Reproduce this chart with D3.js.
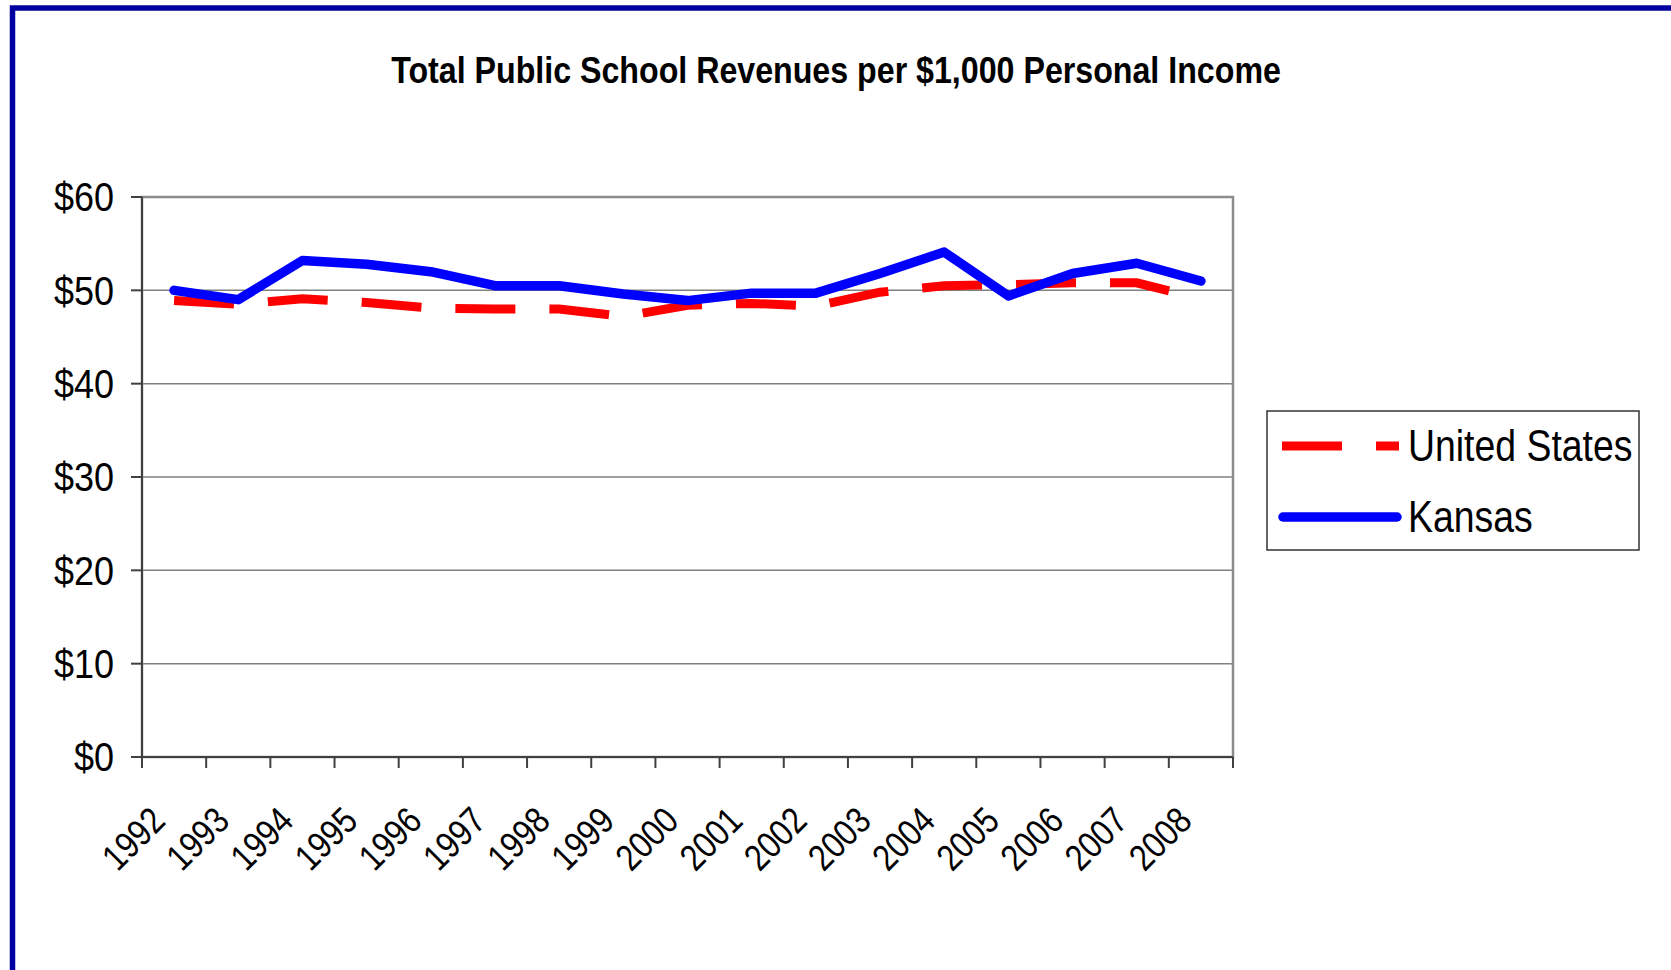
<!doctype html>
<html>
<head>
<meta charset="utf-8">
<title>Total Public School Revenues per $1,000 Personal Income</title>
<script src="https://cdn.jsdelivr.net/npm/d3@7"></script>
<style>
body { margin: 0; background: #fff; }
svg { display: block; }
text { font-family: "Liberation Sans", Arial, sans-serif; fill: #000; }
</style>
</head>
<body>
<svg id="chart" width="1671" height="970"></svg>
<script>
var years = ["1992", "1993", "1994", "1995", "1996", "1997", "1998", "1999", "2000",
             "2001", "2002", "2003", "2004", "2005", "2006", "2007", "2008"];
var unitedStates = [48.9, 48.5, 49.1, 48.7, 48.1, 48.0, 48.0, 47.2, 48.4,
                    48.6, 48.3, 49.8, 50.5, 50.6, 50.8, 50.8, 49.1];
var kansas = [50.0, 49.0, 53.2, 52.8, 52.0, 50.5, 50.5, 49.6, 48.9,
              49.7, 49.7, 51.8, 54.1, 49.4, 51.8, 52.9, 51.0];
var yTicks = [0, 10, 20, 30, 40, 50, 60];

var svg = d3.select("#chart");

// outer frame, runs off the right and bottom edge
svg.append("rect")
  .attr("x", 12.5).attr("y", 8)
  .attr("width", 1700).attr("height", 1000)
  .attr("fill", "none").attr("stroke", "#0000a0").attr("stroke-width", 5.5);

svg.append("text")
  .attr("transform", "translate(836,83) scale(0.87,1)")
  .attr("text-anchor", "middle")
  .style("font-size", "37px").style("font-weight", "bold")
  .text("Total Public School Revenues per $1,000 Personal Income");

var plotLeft = 142, plotRight = 1233, plotTop = 197, plotBottom = 757;

var x = d3.scaleBand().domain(years).range([plotLeft, plotRight]);
var y = d3.scaleLinear().domain([0, 60]).range([plotBottom, plotTop]);
var cx = function(d) { return x(d) + x.bandwidth() / 2; };

// gridlines
svg.append("g").selectAll("line")
  .data(yTicks.filter(function(t) { return t > 0 && t < 60; }))
  .join("line")
  .attr("x1", plotLeft).attr("x2", plotRight)
  .attr("y1", function(d) { return y(d); }).attr("y2", function(d) { return y(d); })
  .attr("stroke", "#808080").attr("stroke-width", 1.5);

// plot frame
svg.append("rect")
  .attr("x", plotLeft).attr("y", plotTop)
  .attr("width", plotRight - plotLeft).attr("height", plotBottom - plotTop)
  .attr("fill", "none").attr("stroke", "#8c8c8c").attr("stroke-width", 2.5);

// axes
svg.append("line").attr("x1", plotLeft).attr("x2", plotLeft).attr("y1", plotTop).attr("y2", plotBottom + 1)
  .attr("stroke", "#404040").attr("stroke-width", 2);
svg.append("line").attr("x1", plotLeft).attr("x2", plotRight).attr("y1", plotBottom).attr("y2", plotBottom)
  .attr("stroke", "#404040").attr("stroke-width", 2);

// y ticks and labels
svg.append("g").selectAll("line")
  .data(yTicks).join("line")
  .attr("x1", plotLeft - 11).attr("x2", plotLeft)
  .attr("y1", function(d) { return y(d); }).attr("y2", function(d) { return y(d); })
  .attr("stroke", "#404040").attr("stroke-width", 2);

svg.append("g").selectAll("text")
  .data(yTicks).join("text")
  .attr("transform", function(d) { return "translate(114," + y(d) + ") scale(0.9,1)"; })
  .attr("dy", "0.36em")
  .attr("text-anchor", "end")
  .style("font-size", "40px")
  .text(function(d) { return "$" + d; });

// x ticks between categories
var edges = years.map(function(d) { return x(d); }).concat([plotRight]);
svg.append("g").selectAll("line")
  .data(edges).join("line")
  .attr("x1", function(d) { return d; }).attr("x2", function(d) { return d; })
  .attr("y1", plotBottom).attr("y2", plotBottom + 11)
  .attr("stroke", "#404040").attr("stroke-width", 2);

svg.append("g").selectAll("text")
  .data(years).join("text")
  .attr("transform", function(d) {
    return "translate(" + (cx(d) - 7) + "," + (plotBottom + 66) + ") rotate(-45) scale(0.85,1)";
  })
  .attr("text-anchor", "end")
  .style("font-size", "37px")
  .text(function(d) { return d; });

// series
var line = d3.line()
  .x(function(d, i) { return cx(years[i]); })
  .y(function(d) { return y(d); });

svg.append("path")
  .datum(unitedStates)
  .attr("d", line)
  .attr("fill", "none").attr("stroke", "#ff0000").attr("stroke-width", 9)
  .attr("stroke-dasharray", "60,34");

svg.append("path")
  .datum(kansas)
  .attr("d", line)
  .attr("fill", "none").attr("stroke", "#0000ff").attr("stroke-width", 9.5)
  .attr("stroke-linejoin", "round").attr("stroke-linecap", "round");

// legend
var legend = svg.append("g");
legend.append("rect")
  .attr("x", 1267).attr("y", 411).attr("width", 372).attr("height", 139)
  .attr("fill", "#fff").attr("stroke", "#333").attr("stroke-width", 1.5);

var items = [
  {name: "United States", color: "#ff0000", dash: "60,34", cap: "butt", y: 446, w: 9},
  {name: "Kansas", color: "#0000ff", dash: null, cap: "round", y: 517, w: 9.5}
];
items.forEach(function(it) {
  legend.append("line")
    .attr("x1", it.cap === "round" ? 1283 : 1282).attr("x2", it.cap === "round" ? 1397 : 1399)
    .attr("y1", it.y).attr("y2", it.y)
    .attr("stroke", it.color).attr("stroke-width", it.w)
    .attr("stroke-linecap", it.cap)
    .attr("stroke-dasharray", it.dash);
  legend.append("text")
    .attr("transform", "translate(1408," + (it.y + 15) + ") scale(0.85,1)")
    .style("font-size", "44px")
    .text(it.name);
});
</script>
</body>
</html>
